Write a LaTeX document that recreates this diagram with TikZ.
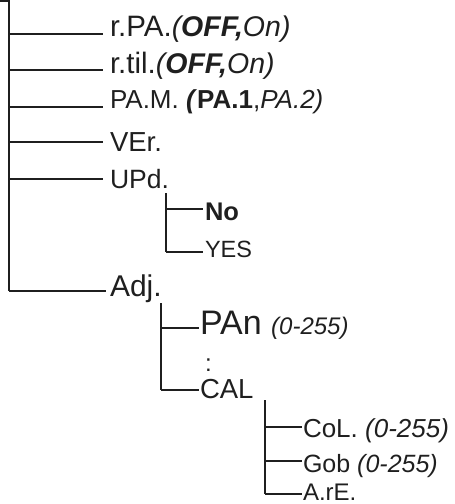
\documentclass[tikz,border=0pt]{standalone}
\usepackage{fontspec}
\setmainfont{Liberation Sans}
\newcommand{\fsz}[1]{\fontsize{#1}{#1}\selectfont}
\begin{document}
\begin{tikzpicture}[x=1pt,y=-1pt,
  wire/.style={line width=2pt,color=black!88},
  lab/.style={anchor=base west,inner sep=0pt,outer sep=0pt,text=black!88}]
\useasboundingbox (0,0) rectangle (455,504);
% trunk and its branch points
\coordinate (top) at (0,1);
\coordinate (tk0) at (9,1);
\coordinate (tk1) at (9,34);
\coordinate (tk2) at (9,70);
\coordinate (tk3) at (9,107);
\coordinate (tk4) at (9,142);
\coordinate (tk5) at (9,179);
\coordinate (tk6) at (9,291);
% labels, level 1
\node[lab,font=\fsz{29.5}] (rpa) at (110,36) {r.PA.\textit{\fsz{28.5}(\textbf{OFF,}On)}};
\node[lab,font=\fsz{29.5}] (rtil) at (110,73) {r.til.\textit{\fsz{28.5}(\textbf{OFF,}On)}};
\node[lab,font=\fsz{26}] (pam) at (110,108.5) {PA.M. \textbf{\textit{(}PA.1},\textit{PA.2)}};
\node[lab,font=\fsz{27.5}] (ver) at (110,151) {VEr.};
\node[lab,font=\fsz{26.5}] (upd) at (110,188) {UPd.};
\node[lab,font=\fsz{30}] (adj) at (110,296.5) {Adj.};
% level 2: UPd
\coordinate (u0) at (166,193);
\coordinate (u1) at (166,209);
\coordinate (u2) at (166,252);
\node[lab,font=\bfseries\fsz{25.5}] (no) at (205,220) {No};
\node[lab,font=\fsz{23.5}] (yes) at (205,257) {YES};
% level 2: Adj
\coordinate (a0) at (161,303);
\coordinate (a1) at (161,328);
\coordinate (a2) at (161,390);
\node[lab,font=\fsz{34}] (pan) at (200,334) {PAn \textit{\fsz{24}(0-255)}};
\node[lab,font=\fsz{24}] (dots) at (205,371) {:};
\node[lab,font=\fsz{27.5}] (cal) at (200,398) {CAL};
% level 3: CAL
\coordinate (c0) at (265,400);
\coordinate (c1) at (265,427);
\coordinate (c2) at (265,461);
\coordinate (c3) at (265,494);
\node[lab,font=\fsz{26}] (col) at (303,437) {CoL. \textit{(0-255)}};
\node[lab,font=\fsz{25}] (gob) at (303,472) {Gob \textit{(0-255)}};
\node[lab,font=\fsz{24},text depth=0pt] (are) at (303,500) {A.rE.};
% connectors
\draw[wire] (top) -- (tk0) -- (tk6);
\foreach \k/\n in {tk1/rpa,tk2/rtil,tk3/pam,tk4/ver,tk5/upd}
  \draw[wire] (\k) -- ([xshift=-7pt]\k-|\n.west);
\draw[wire] (tk6) -- ([xshift=-4pt]tk6-|adj.west);
\draw[wire] (u0) -- (u2);
\foreach \k/\n in {u1/no,u2/yes}
  \draw[wire] (\k) -- ([xshift=-2pt]\k-|\n.west);
\draw[wire] (a0) -- (a2);
\foreach \k/\n in {a1/pan,a2/cal}
  \draw[wire] (\k) -- ([xshift=-1pt]\k-|\n.west);
\draw[wire] (c0) -- (c3);
\foreach \k/\n in {c1/col,c2/gob,c3/are}
  \draw[wire] (\k) -- ([xshift=-1pt]\k-|\n.west);
\end{tikzpicture}
\end{document}
